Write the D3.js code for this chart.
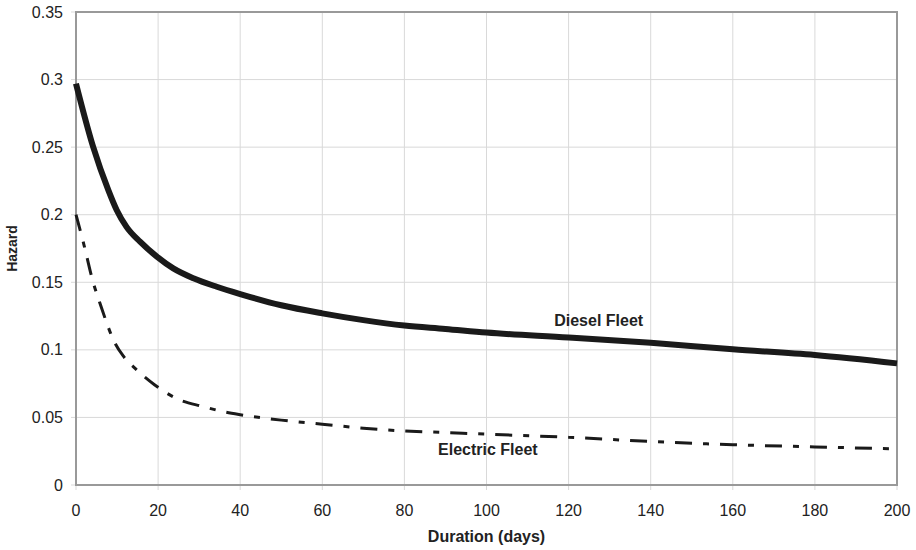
<!DOCTYPE html>
<html><head><meta charset="utf-8">
<script src="https://cdn.jsdelivr.net/npm/d3@7"></script>
<style>body{margin:0;background:#fff}svg{display:block;font-family:"Liberation Sans",Arial,sans-serif}</style>
</head><body><svg id="c" width="916" height="550"></svg>
<script>
const dieselDays = [0, 4.2, 7.9, 9.9, 12.3, 15.6, 19.7, 23.7, 28.6, 34.3, 40, 50, 60, 70, 80, 90, 100, 120, 140, 160, 180, 200];
const diesel = [0.297, 0.25, 0.218, 0.2035, 0.191, 0.180, 0.169, 0.1603, 0.153, 0.1467, 0.1413, 0.133, 0.127, 0.122, 0.118, 0.1155, 0.1128, 0.1092, 0.1052, 0.1004, 0.0962, 0.090];
const electricDays = [0, 2, 4, 6, 9.5, 11.5, 14.4, 19.2, 24.5, 31, 36.3, 40, 50, 60, 70, 80, 90, 100, 120, 140, 160, 180, 200];
const electric = [0.200, 0.177, 0.152, 0.133, 0.105, 0.0955, 0.0863, 0.074, 0.064, 0.058, 0.054, 0.052, 0.048, 0.045, 0.042, 0.040, 0.0388, 0.0376, 0.0353, 0.0322, 0.0298, 0.0282, 0.0267];
const xTicks = [0, 20, 40, 60, 80, 100, 120, 140, 160, 180, 200];
const yTicks = [0, 0.05, 0.1, 0.15, 0.2, 0.25, 0.3, 0.35];
const xTitle = "Duration (days)", yTitle = "Hazard";
const seriesLabels = ["Diesel Fleet", "Electric Fleet"];

const svg = d3.select("#c");
const m = {l:76, t:12, r:19, b:65};
const W = 916 - m.l - m.r, H = 550 - m.t - m.b;
const x = d3.scaleLinear().domain([0,200]).range([m.l, m.l+W]);
const y = d3.scaleLinear().domain([0,0.35]).range([m.t+H, m.t]);

// grid
svg.append("g").selectAll("line").data(yTicks).join("line")
  .attr("x1", m.l-5).attr("x2", m.l+W).attr("y1", d=>y(d)).attr("y2", d=>y(d))
  .attr("stroke", "#d9d9d9").attr("stroke-width", 1);
svg.append("g").selectAll("line").data(xTicks).join("line")
  .attr("y1", m.t).attr("y2", m.t+H+5).attr("x1", d=>x(d)).attr("x2", d=>x(d))
  .attr("stroke", "#d9d9d9").attr("stroke-width", 1);

// frame
svg.append("rect").attr("x", m.l).attr("y", m.t).attr("width", W).attr("height", H)
  .attr("fill", "none").attr("stroke", "#999").attr("stroke-width", 2);

// tick labels
svg.append("g").selectAll("text").data(yTicks).join("text")
  .attr("x", m.l-13).attr("y", d=>y(d)).attr("dy", "0.35em").attr("text-anchor", "end")
  .attr("font-size", 16).attr("fill", "#222").text(d=>d3.format("")(d));
svg.append("g").selectAll("text").data(xTicks).join("text")
  .attr("x", d=>x(d)).attr("y", m.t+H+31).attr("text-anchor", "middle")
  .attr("font-size", 16).attr("fill", "#222").text(d=>d);

// titles
svg.append("text").attr("x", x(100)).attr("y", 542).attr("text-anchor", "middle")
  .attr("font-size", 16).attr("font-weight", "bold").attr("fill", "#222").text(xTitle);
svg.append("text").attr("transform", `translate(17,${m.t+H/2}) rotate(-90)`).attr("text-anchor", "middle")
  .attr("font-size", 14).attr("font-weight", "bold").attr("fill", "#222").text(yTitle);

// lines
const line = (ds, vals) => d3.line().x((d,i)=>x(ds[i])).y(d=>y(d)).curve(d3.curveMonotoneX)(vals);
svg.append("path").attr("d", line(electricDays, electric)).attr("fill", "none").attr("stroke", "#1a1a1a")
  .attr("stroke-width", 3).attr("stroke-dasharray", "17 11 6 11");
svg.append("path").attr("d", line(dieselDays, diesel)).attr("fill", "none").attr("stroke", "#1a1a1a")
  .attr("stroke-width", 6).attr("stroke-linejoin", "round");

// series labels
svg.append("text").attr("x", x(116.5)).attr("y", 326).attr("font-size", 16).attr("font-weight", "bold")
  .attr("fill", "#222").text(seriesLabels[0]);
svg.append("text").attr("x", x(88.2)).attr("y", 455).attr("font-size", 16).attr("font-weight", "bold")
  .attr("fill", "#222").text(seriesLabels[1]);
</script></body></html>
